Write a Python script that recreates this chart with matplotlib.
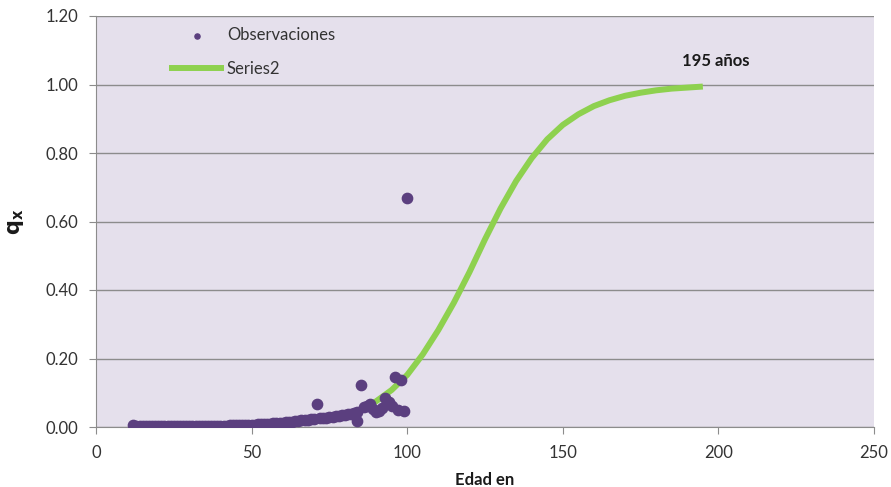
import numpy as np
import matplotlib.pyplot as plt

# observed mortality rates by age
obs_age = [12, 13, 14, 15, 16, 17, 18, 19, 20, 21, 22, 23, 24, 25, 26, 27, 28, 29, 30,
           31, 32, 33, 34, 35, 36, 37, 38, 39, 40, 41, 42, 43, 44, 45, 46, 47, 48, 49, 50,
           51, 52, 53, 54, 55, 56, 57, 58, 59, 60, 61, 62, 63, 64, 65, 66, 67, 68, 69, 70,
           71, 72, 73, 74, 75, 76, 77, 78, 79, 80, 81, 82, 83, 84, 84, 85, 86, 87, 88, 89,
           90, 91, 92, 93, 94, 95, 96, 97, 98, 99, 100]
obs_qx = [0.006, 0.003, 0.002, 0.002, 0.002, 0.002, 0.002, 0.002, 0.002, 0.002, 0.002,
          0.002, 0.002, 0.002, 0.003, 0.003, 0.003, 0.003, 0.003, 0.003, 0.003, 0.003,
          0.003, 0.003, 0.003, 0.003, 0.004, 0.004, 0.004, 0.004, 0.004, 0.005, 0.005,
          0.005, 0.005, 0.006, 0.006, 0.006, 0.007, 0.007, 0.008, 0.008, 0.009, 0.009,
          0.010, 0.011, 0.012, 0.012, 0.013, 0.014, 0.015, 0.016, 0.017, 0.018, 0.019,
          0.020, 0.021, 0.022, 0.024, 0.068, 0.025, 0.026, 0.027, 0.028, 0.029, 0.031,
          0.033, 0.034, 0.035, 0.037, 0.039, 0.042, 0.045, 0.018, 0.123, 0.058, 0.062,
          0.068, 0.052, 0.044, 0.048, 0.056, 0.084, 0.072, 0.062, 0.145, 0.050, 0.137,
          0.048, 0.670]

# fitted curve (Series2)
fit_age = [12, 15, 20, 25, 30, 35, 40, 45, 50, 55, 60, 65, 70, 75, 80, 85, 90, 95, 100,
           105, 110, 115, 120, 125, 130, 135, 140, 145, 150, 155, 160, 165, 170, 175, 180,
           185, 190, 195]
fit_qx = [0.000, 0.000, 0.000, 0.000, 0.001, 0.001, 0.001, 0.002, 0.003, 0.005, 0.007,
          0.011, 0.016, 0.024, 0.035, 0.051, 0.075, 0.108, 0.152, 0.212, 0.283, 0.363,
          0.452, 0.548, 0.638, 0.718, 0.785, 0.840, 0.882, 0.913, 0.937, 0.954, 0.967,
          0.976, 0.983, 0.988, 0.991, 0.994]

plt.rcParams['font.family'] = ['Lato', 'DejaVu Sans']

fig = plt.figure(figsize=(8.91, 4.87), dpi=100)
ax = fig.add_axes([96 / 891, 60 / 487, 778 / 891, 411 / 487])
ax.set_facecolor('#e5e0ec')

ax.plot(fit_age, fit_qx, color='#8ed14f', lw=4.3, solid_capstyle='butt',
        label='Series2', zorder=2)
ax.scatter(obs_age, obs_qx, s=55, color='#5b3f7f', label='Observaciones', zorder=3)

ax.text(199, 1.07, '195 años', ha='center', va='center', fontsize=12,
        fontweight='bold', color='#1a1a1a')

ax.set_xlim(0, 250)
ax.set_ylim(0, 1.2)
ax.set_xticks(np.arange(0, 251, 50))
ax.set_yticks(np.arange(0, 1.21, 0.2))
ax.set_yticklabels([f'{v:.2f}' for v in np.arange(0, 1.21, 0.2)])
ax.grid(axis='y', color='#8c8c8c', lw=1)
ax.set_axisbelow(True)

for s in ['top', 'right']:
    ax.spines[s].set_visible(False)
for s in ['left', 'bottom']:
    ax.spines[s].set_color('#8c8c8c')
ax.tick_params(colors='#8c8c8c', labelcolor='#333333', labelsize=12, length=5)
ax.tick_params(axis='x', pad=8)
ax.tick_params(axis='y', pad=8)

ax.set_xlabel('Edad en', fontsize=12, fontweight='bold', color='#1a1a1a', labelpad=8)
ax.set_ylabel(r'$\mathbf{q}_{\mathbf{x}}$', fontsize=15, color='#1a1a1a', labelpad=14)

leg = ax.legend(handles=ax.get_legend_handles_labels()[0][::-1],
                loc='upper left', bbox_to_anchor=(0.075, 1.01), frameon=False,
                fontsize=12, handlelength=3.3, labelspacing=1.1, handletextpad=0.15,
                markerscale=0.5)
for t in leg.get_texts():
    t.set_color('#333333')

fig.savefig('out.png', dpi=100)
